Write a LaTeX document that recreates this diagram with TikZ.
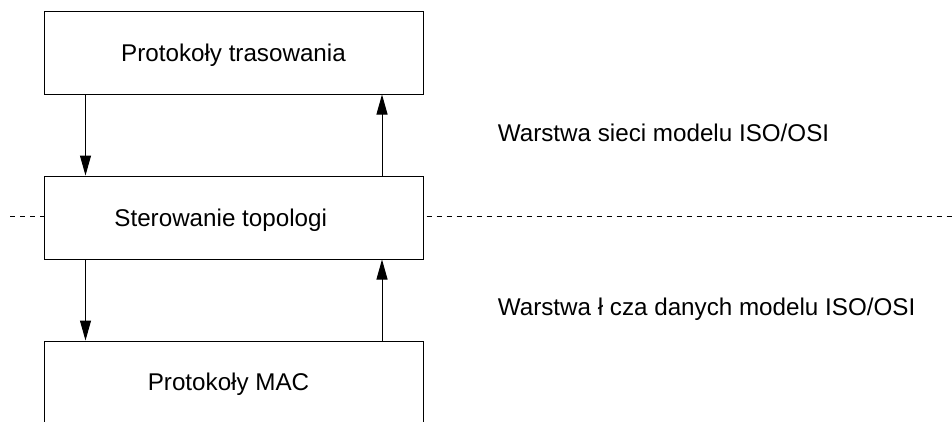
\documentclass[tikz,border=0pt]{standalone}
\usepackage{fontspec}
\setmainfont{Liberation Sans}
\usetikzlibrary{arrows.meta}
\begin{document}
\begin{tikzpicture}[x=1pt,y=-1pt,
  layerbox/.style={draw=black,line width=1pt,minimum width=379pt,inner sep=0pt},
  txt/.style={anchor=base,inner sep=0pt,font=\fontsize{24.2}{29}\selectfont},
  flow/.style={draw=black,line width=1pt,-{Triangle[length=20pt,width=11pt]}},
  sep/.style={draw=black,line width=0.8pt,dash pattern=on 5pt off 5pt},
  lbl/.style={anchor=base west,inner sep=0pt,font=\fontsize{24.2}{29}\selectfont}]
\useasboundingbox (0,0) rectangle (952,421);
\clip (0,0) rectangle (952,421);
\node[layerbox,minimum height=83pt] (top) at (233.5,52.5) {};
\node[layerbox,minimum height=83pt] (mid) at (233.5,217.5) {};
\node[layerbox,minimum height=84pt] (bot) at (233.5,383) {};
\node[txt] (topt) at (233.5,61) {Protokoły trasowania};
\node[txt] (midt) at (220.7,226) {Sterowanie topologi};
\node[txt] (bott) at (228.5,390.7) {Protokoły MAC};
\coordinate (dl) at (10,216.5);
\coordinate (dr) at (952,216.5);
\draw[sep] (dl) -- (mid.west |- dl);
\draw[sep] (mid.east |- dl) ++(3,0) -- (dr);
\draw[flow] (top.south west) ++(42,0) coordinate (a1) -- (a1 |- mid.north);
\draw[flow] (mid.north east) ++(-41.5,0) coordinate (a2) -- (a2 |- top.south);
\draw[flow] (mid.south west) ++(42,0) coordinate (a3) -- (a3 |- bot.north);
\draw[flow] (bot.north east) ++(-41.5,0) coordinate (a4) -- (a4 |- mid.south);
\node[lbl] (net) at (497.7,141.7) {Warstwa sieci modelu ISO/OSI};
\node[lbl] (link) at (497.7,315.7) {Warstwa ł cza danych modelu ISO/OSI};
\end{tikzpicture}
\end{document}
